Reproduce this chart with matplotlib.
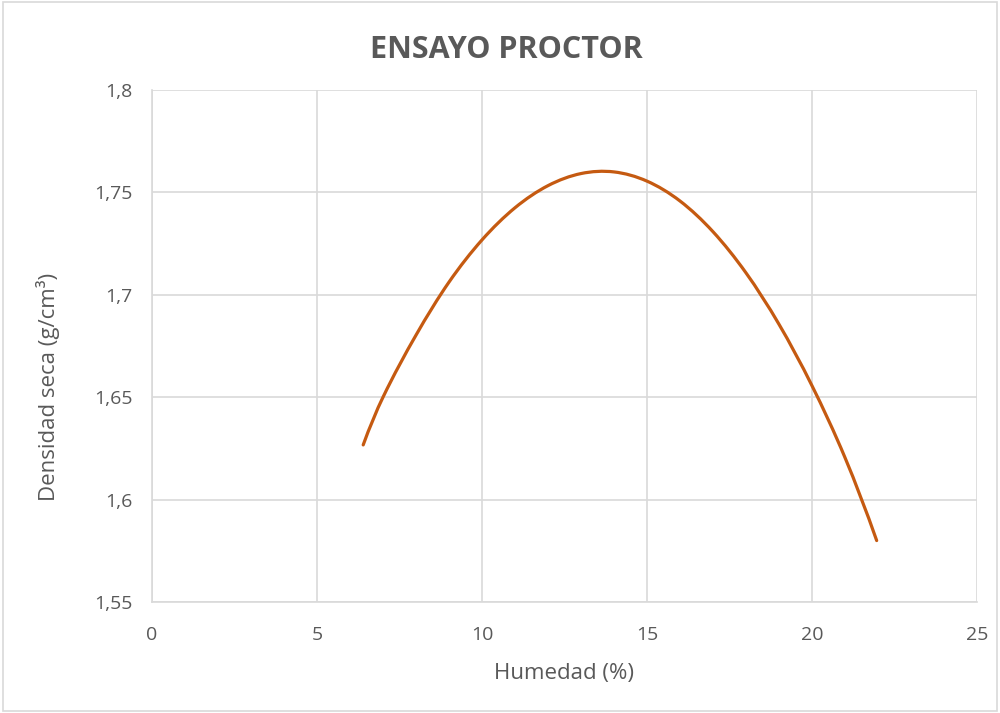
import matplotlib
matplotlib.use("Agg")
import matplotlib.pyplot as plt
from matplotlib.patches import Rectangle, PathPatch
from matplotlib.path import Path

# Curva (humedad %, densidad seca g/cm3)
humedad = [6.40, 7.0, 8.0, 9.0, 10.0, 11.0, 12.0, 13.0, 14.0, 15.0, 16.0,
           17.0, 18.0, 19.0, 20.0, 21.0, 21.96]
densidad = [1.6267, 1.650, 1.6803, 1.7062, 1.7268, 1.7425, 1.7533, 1.7592,
            1.7600, 1.7555, 1.7458, 1.7308, 1.7107, 1.6856, 1.6556, 1.6205,
            1.580]

x_ticks = [0, 5, 10, 15, 20, 25]
y_ticks = [1.55, 1.6, 1.65, 1.7, 1.75, 1.8]
y_labels = ["1,55", "1,6", "1,65", "1,7", "1,75", "1,8"]

plt.rcParams['font.family'] = ['Open Sans', 'DejaVu Sans']

gray_text = '#595959'
grid_col = '#d9d9d9'


def smooth_path(xs, ys):
    # linea suavizada tipo Excel: tramos Bezier con pendientes centrales
    n = len(xs)
    slopes = []
    for i in range(n):
        if 0 < i < n - 1:
            slopes.append((ys[i + 1] - ys[i - 1]) / (xs[i + 1] - xs[i - 1]))
        else:
            slopes.append(None)
    sec0 = (ys[1] - ys[0]) / (xs[1] - xs[0])
    secn = (ys[-1] - ys[-2]) / (xs[-1] - xs[-2])
    slopes[0] = 2 * sec0 - slopes[1]
    slopes[-1] = 2 * secn - slopes[-2]

    verts = [(xs[0], ys[0])]
    codes = [Path.MOVETO]
    for i in range(n - 1):
        h = (xs[i + 1] - xs[i]) / 3
        verts += [(xs[i] + h, ys[i] + slopes[i] * h),
                  (xs[i + 1] - h, ys[i + 1] - slopes[i + 1] * h),
                  (xs[i + 1], ys[i + 1])]
        codes += [Path.CURVE4] * 3
    return Path(verts, codes)


fig = plt.figure(figsize=(10, 7.13), dpi=100)
ax = fig.add_axes([0.152, 1 - 602 / 713, 0.825, 512 / 713])

ax.add_patch(PathPatch(smooth_path(humedad, densidad), facecolor='none',
                       edgecolor='#C55A11', linewidth=2.3, capstyle='round',
                       joinstyle='round', zorder=3))

ax.set_xlim(0, 25)
ax.set_ylim(1.55, 1.8)
ax.set_xticks(x_ticks)
ax.set_yticks(y_ticks)
ax.set_yticklabels(y_labels)
ax.grid(True, color=grid_col, linewidth=1.2)
ax.set_axisbelow(True)
for s in ['top', 'right']:
    ax.spines[s].set_visible(False)
for s in ['left', 'bottom']:
    ax.spines[s].set_color(grid_col)
    ax.spines[s].set_linewidth(1.2)
ax.tick_params(axis='both', length=0, labelsize=14, colors=gray_text)
ax.tick_params(axis='x', pad=17)
ax.tick_params(axis='y', pad=14)

ax.set_xlabel("Humedad (%)", fontsize=16, color=gray_text, labelpad=14)
fig.text(0.048, 1 - 387 / 713, "Densidad seca (g/cm³)", rotation=90,
         ha='center', va='center', fontsize=16, color=gray_text)

fig.text(0.506, 1 - 50 / 713, "ENSAYO PROCTOR", ha='center', va='center',
         fontsize=22, fontweight='bold', color=gray_text)

fig.patches.append(Rectangle((0.003, 0.003), 0.994, 0.994,
                             transform=fig.transFigure, fill=False,
                             edgecolor=grid_col, linewidth=1.2))

fig.savefig("out.png", dpi=100)
